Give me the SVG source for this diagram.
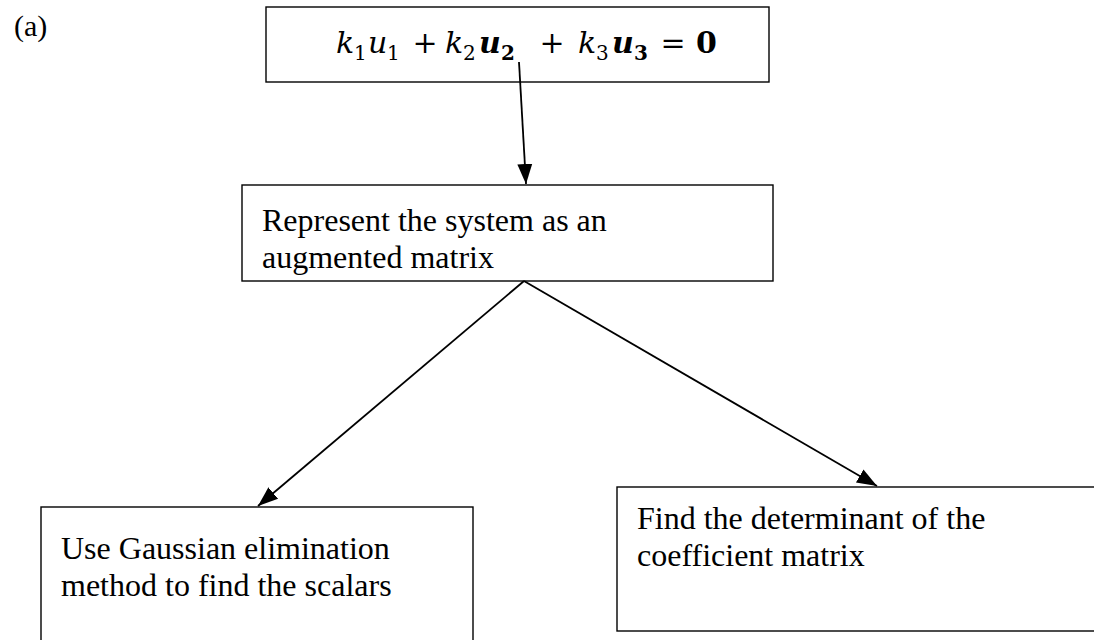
<svg xmlns="http://www.w3.org/2000/svg" width="1094" height="640" viewBox="0 0 1094 640">
<style>
.box{fill:#fff;stroke:#000;stroke-width:1.4}
.t{font-family:"Liberation Serif","Times New Roman",serif;font-size:32px;fill:#000}
.m{font-family:"DejaVu Serif","Liberation Serif",serif;font-size:30px;font-style:italic;fill:#000}
.s{font-family:"DejaVu Serif","Liberation Serif",serif;font-size:20px;fill:#000}
.op{font-family:"DejaVu Serif","Liberation Serif",serif;font-size:30px;fill:#000}
.b{font-weight:bold}
.c{stroke:#000;stroke-width:1.8;fill:none}
</style>
<defs>
<marker id="ah" markerUnits="userSpaceOnUse" markerWidth="22" markerHeight="22" viewBox="0 0 22 22" refX="20" refY="11" orient="auto">
<polygon points="0,3.5 20,11 0,18.5" fill="#000"/>
</marker>
</defs>
<rect width="1094" height="640" fill="#fff"/>
<text class="t" x="14" y="36" style="font-size:30px">(a)</text>
<g id="n1">
<rect class="box" x="266" y="7" width="503" height="75"/>
<text class="m" x="336" y="53">k</text>
<text class="s" x="354" y="60">1</text>
<text class="m" x="368" y="53">u</text>
<text class="s" x="387" y="60">1</text>
<text class="op" x="425" y="53" text-anchor="middle">+</text>
<text class="m" x="445" y="53">k</text>
<text class="s" x="463" y="60">2</text>
<text class="m b" x="479" y="53">u</text>
<text class="s b" x="501" y="60">2</text>
<text class="op" x="552" y="53" text-anchor="middle">+</text>
<text class="m" x="578" y="53">k</text>
<text class="s" x="596" y="60">3</text>
<text class="m b" x="612" y="53">u</text>
<text class="s b" x="634" y="60">3</text>
<text class="op" x="673" y="53" text-anchor="middle">=</text>
<text class="op b" x="696" y="53">0</text>
</g>
<g id="n2">
<rect class="box" x="242" y="185" width="531" height="96"/>
<text class="t" x="262" y="231">Represent the system as an</text>
<text class="t" x="262" y="268">augmented matrix</text>
</g>
<g id="n3">
<rect class="box" x="41" y="507" width="432" height="140"/>
<text class="t" x="61" y="559">Use Gaussian elimination</text>
<text class="t" x="61" y="596">method to find the scalars</text>
</g>
<g id="n4">
<rect class="box" x="617" y="487" width="490" height="144"/>
<text class="t" x="637" y="529">Find the determinant of the</text>
<text class="t" x="637" y="566">coefficient matrix</text>
</g>
<g id="connectors">
<line class="c" x1="519" y1="62" x2="526" y2="184" marker-end="url(#ah)"/>
<line class="c" x1="524" y1="281" x2="258" y2="506" marker-end="url(#ah)"/>
<line class="c" x1="524" y1="281" x2="877" y2="486" marker-end="url(#ah)"/>
</g>
</svg>
